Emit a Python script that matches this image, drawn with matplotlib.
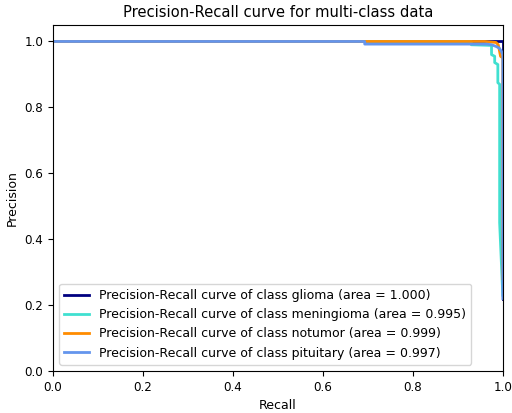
import matplotlib
matplotlib.use("Agg")
import matplotlib.pyplot as plt

classes = ["glioma", "meningioma", "notumor", "pituitary"]
areas = [1.000, 0.995, 0.999, 0.997]
colors = ["navy", "turquoise", "darkorange", "cornflowerblue"]

recall_glioma = [0.0, 0.955, 0.975, 0.99, 1.0, 1.0]
precision_glioma = [1.0, 1.0, 1.0, 1.0, 1.0, 0.22]

recall_meningioma = [0.0, 0.93, 0.93, 0.975, 0.975, 0.982, 0.982, 0.989, 0.989, 0.993, 0.993, 1.0]
precision_meningioma = [1.0, 1.0, 0.99, 0.988, 0.96, 0.955, 0.936, 0.93, 0.875, 0.87, 0.45, 0.23]

recall_notumor = [0.0, 0.96, 0.985, 0.99, 0.995, 1.0, 1.0]
precision_notumor = [1.0, 1.0, 0.997, 0.99, 0.955, 0.95, 0.28]

recall_pituitary = [0.0, 0.693, 0.693, 0.964, 0.975, 0.985, 0.992, 0.997, 1.0, 1.0]
precision_pituitary = [1.0, 1.0, 0.992, 0.992, 0.99, 0.985, 0.98, 0.97, 0.96, 0.22]

recalls = [recall_glioma, recall_meningioma, recall_notumor, recall_pituitary]
precisions = [precision_glioma, precision_meningioma, precision_notumor, precision_pituitary]

fig = plt.figure(figsize=(5.12, 4.13), dpi=100)
ax = fig.add_axes([0.1035, 0.1017, 0.8785, 0.8378])

for name, area, color, rec, prec in zip(classes, areas, colors, recalls, precisions):
    ax.plot(rec, prec, color=color, lw=2,
            label=f"Precision-Recall curve of class {name} (area = {area:.3f})")

ax.set_xlim(0.0, 1.0)
ax.set_ylim(0.0, 1.05)
ax.set_xlabel("Recall", fontsize=9)
ax.set_ylabel("Precision", fontsize=9)
ax.set_title("Precision-Recall curve for multi-class data", fontsize=10.6)
ax.tick_params(labelsize=8.6)
ax.legend(loc="lower left", fontsize=9)

fig.savefig("out.png", dpi=100)
